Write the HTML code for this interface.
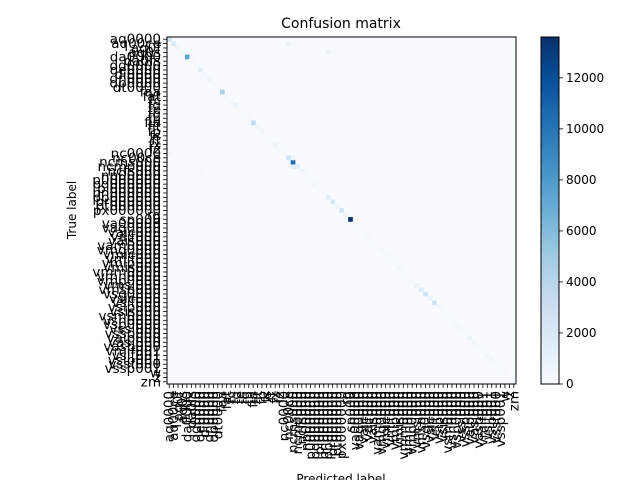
<!DOCTYPE html>
<html><head><meta charset="utf-8"><style>
html,body{margin:0;padding:0;background:#fff;}
svg{display:block;font-family:"DejaVu Sans","Liberation Sans",sans-serif;}
</style></head><body>
<svg id="chart" width="640" height="480" viewBox="0 0 640 480">
<rect width="640" height="480" fill="#fff"/>
<text x="341" y="28" font-size="14" text-anchor="middle">Confusion matrix</text>
<text transform="translate(76,210) rotate(-90)" font-size="12" text-anchor="middle">True label</text>
<text x="341" y="483" font-size="12" text-anchor="middle">Predicted label</text>
<g id="cells"></g>
<g id="xticks"></g>
<g id="yticks"></g>
<rect x="167" y="37" width="349" height="347" fill="none" stroke="#000" stroke-width="1"/>
<defs><linearGradient id="cbg" x1="0" y1="1" x2="0" y2="0"></linearGradient></defs>
<rect x="541" y="37" width="18" height="347" fill="url(#cbg)" stroke="#000" stroke-width="1"/>
<g id="cbticks"></g>
</svg>
<script>
const labels = ["aq0000","aq00ce","aq0f","aq0s","da0000","da0fs","dd0000","de0000","di0000","dn0000","dp0000","dt0000","faa","fat","fc","fd","fe","fg","fh","fia","fit","fp","fs","ft","fx","fz","nc0000","nc00ce","ncms000","ncmp000","ncfs000","np00000","p0000000","pd000000","pi000000","pn000000","pp000000","pr000000","pt000000","px000000","rg","sp000","va00000","vag0000","vaic000","vaif000","vais000","vam0000","vmg0000","vmic000","vmif000","vmip000","vmis000","vmm0000","vmn0000","vmp0000","vmsi000","vmsp000","vsg0000","vsic000","vsif000","vsip000","vsis000","vsm0000","vsn0000","vsp0000","vssi000","vssp000","vaip000","vasi000","vasp000","vmif001","vsif001","vsip001","vssf000","vssp001","w","z","zm"];
const diagValues = [2500,2000,400,300,7500,300,150,1500,500,800,200,150,4500,300,300,1000,200,150,200,3500,600,400,200,150,600,150,200,3000,10500,1500,800,200,150,400,200,300,1500,2000,300,2500,500,13500,200,150,200,300,150,200,300,200,150,200,300,200,150,300,800,1500,2500,1000,2500,500,200,150,200,300,200,150,1000,300,200,150,300,400,200,150,200,150,200];
const offRows = [1,3,27,29,26,31,4];
const offCols = [27,36,28,28,0,7,3];
const offValues = [800,800,700,1500,300,300,200];
const cbTicks = [0,2000,4000,6000,8000,10000,12000];
const vmax = 13600;

const NS="http://www.w3.org/2000/svg";
const N = labels.length;
const X0=167, Y0=37, W=349, H=347;
const cw=W/N, ch=H/N;
const xs = i => X0 + i*cw;
const ys = i => Y0 + i*ch;
const stops=[[247,251,255],[222,235,247],[198,219,239],[158,202,225],[107,174,214],[66,146,198],[33,113,181],[8,81,156],[8,48,107]];
function cmap(v){let t=Math.max(0,Math.min(1,v/vmax))*8;let i=Math.min(7,Math.floor(t));let f=t-i;const a=stops[i],b=stops[i+1];return `rgb(${a.map((c,k)=>Math.round(c+(b[k]-c)*f)).join(',')})`;}
function mk(tag,attrs,parent){const e=document.createElementNS(NS,tag);for(const k in attrs)e.setAttribute(k,attrs[k]);parent.appendChild(e);return e;}

const cells=document.getElementById('cells');
const bg=mk('rect',{x:X0,y:Y0,width:W,height:H,fill:cmap(0)},cells);


diagValues.forEach((v,i)=>{
  const r=mk('rect',{x:xs(i),y:ys(i),width:cw+0.3,height:ch+0.3,fill:cmap(v)},cells);
  
  
});
offValues.forEach((v,k)=>{
  const r=mk('rect',{x:xs(offCols[k]),y:ys(offRows[k]),width:cw+0.3,height:ch+0.3,fill:cmap(v)},cells);
  
  
});

const xt=document.getElementById('xticks'), yt=document.getElementById('yticks');
labels.forEach((l,i)=>{
  const cx=xs(i)+cw/2, cy=ys(i)+ch/2;
  mk('line',{x1:cx,x2:cx,y1:384,y2:388,stroke:'#000','stroke-width':0.8},xt);
  const tx=mk('text',{transform:`translate(${cx+4.5},391) rotate(-90)`,'font-size':13.5,'text-anchor':'end'},xt);
  tx.textContent=l;
  
  
  mk('line',{x1:163,x2:167,y1:cy,y2:cy,stroke:'#000','stroke-width':0.8},yt);
  const ty=mk('text',{x:161,y:cy+4.5,'font-size':13.5,'text-anchor':'end'},yt);
  ty.textContent=l;
  
  
});

const g=document.getElementById('cbg');
stops.forEach((s,i)=>mk('stop',{offset:(i/8),'stop-color':`rgb(${s.join(',')})`},g));
const cbt=document.getElementById('cbticks');
cbTicks.forEach(v=>{
  const y=384 - v/vmax*347;
  mk('line',{x1:559,x2:563,y1:y,y2:y,stroke:'#000','stroke-width':0.8},cbt);
  const t=mk('text',{x:566,y:y+4,'font-size':12},cbt);
  t.textContent=v;
  
  
});
</script>
</body></html>
